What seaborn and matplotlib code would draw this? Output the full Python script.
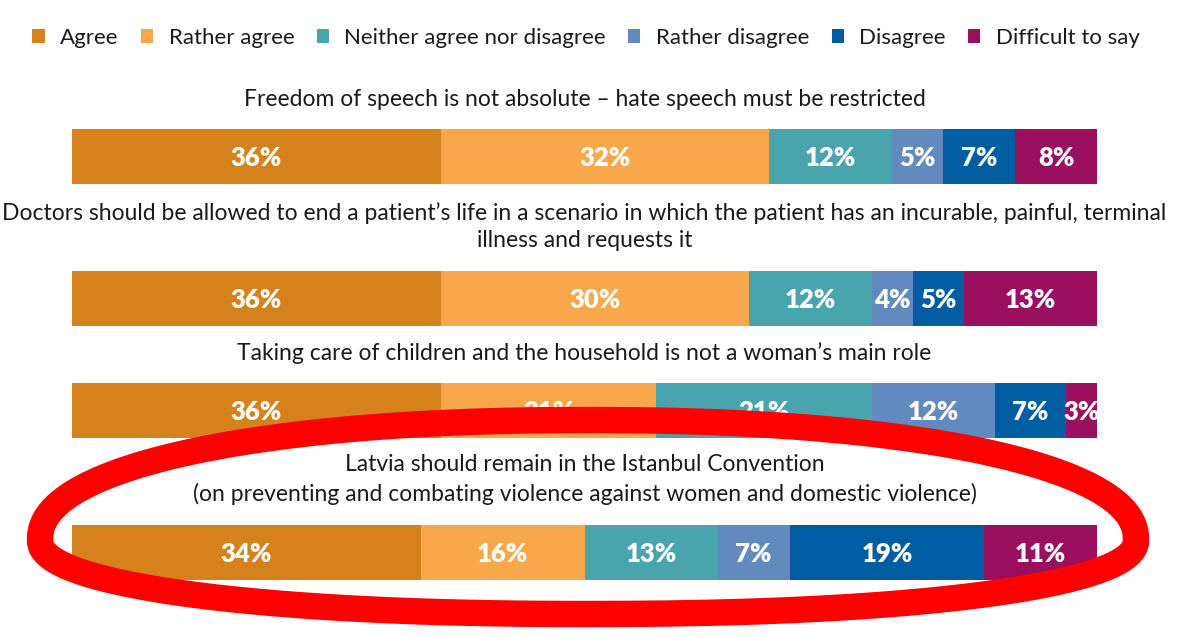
import numpy as np
import matplotlib.pyplot as plt
from matplotlib.patches import Patch
import seaborn as sns

# answer categories and colours
categories = ['Agree', 'Rather agree', 'Neither agree nor disagree',
              'Rather disagree', 'Disagree', 'Difficult to say']
colors = ['#D6821C', '#F9A74B', '#48A4AD', '#628ABF', '#005DA1', '#9A0F5E']

# statements (one bar each)
statements = [
    'Freedom of speech is not absolute \u2013 hate speech must be restricted',
    'Doctors should be allowed to end a patient\u2019s life in a scenario in which the patient has an incurable, painful, terminal\nillness and requests it',
    'Taking care of children and the household is not a woman\u2019s main role',
    'Latvia should remain in the Istanbul Convention\n(on preventing and combating violence against women and domestic violence)',
]

# shares in % per category
freedom_speech = [36, 32, 12, 5, 7, 8]
euthanasia = [36, 30, 12, 4, 5, 13]
womens_role = [36, 21, 21, 12, 7, 3]
istanbul = [34, 16, 13, 7, 19, 11]
all_values = [freedom_speech, euthanasia, womens_role, istanbul]

# layout in pixels of the 1181x638 image
W, H = 1181, 638
bar_left, bar_right = 72, 1097
bar_tops = [129, 271, 383, 525]
bar_h = 55
title_y = [99, 226.5, 353, 479.5]

sns.set_theme(style='white')
plt.rcParams['font.family'] = ['Lato', 'DejaVu Sans']

fig = plt.figure(figsize=(W / 100, H / 100), dpi=100)

for stmt, vals, top in zip(statements, all_values, bar_tops):
    ax = fig.add_axes([bar_left / W, 1 - (top + bar_h) / H,
                       (bar_right - bar_left) / W, bar_h / H])
    cum = np.cumsum(vals)
    # stacked bars: draw cumulative totals from largest to smallest
    for i in range(len(vals) - 1, -1, -1):
        sns.barplot(x=[cum[i]], y=[stmt], color=colors[i], orient='h',
                    width=1, linewidth=0, saturation=1, ax=ax)
    lefts = cum - np.array(vals)
    for v, l in zip(vals, lefts):
        ax.text(l + v / 2, 0.02, f'{v}%', ha='center', va='center',
                color='white', fontsize=18.5, fontweight='heavy')
    ax.set_xlim(0, 100)
    ax.set_ylim(0.5, -0.5)
    ax.axis('off')

# overlay in pixel coordinates for titles and the red ellipse
ov = fig.add_axes([0, 0, 1, 1], zorder=10)
ov.set_xlim(0, W)
ov.set_ylim(H, 0)
ov.axis('off')
ov.patch.set_alpha(0)

cx_text = (bar_left + bar_right) / 2
for stmt, ty in zip(statements, title_y):
    ov.text(cx_text, ty, stmt, ha='center', va='center', fontsize=16.5,
            color='#1a1a1a', linespacing=1.4)

# hand-drawn style highlight around the last statement
t = np.linspace(0, 2 * np.pi, 400)
n = 2.2
cx, cy, a = 588, 540, 548
b = np.where(np.sin(t) > 0, 120, 74)
ex = cx + a * np.sign(np.cos(t)) * np.abs(np.cos(t)) ** (2 / n)
ey = cy - b * np.sign(np.sin(t)) * np.abs(np.sin(t)) ** (2 / n)
ov.plot(ex, ey, color='#FF0000', lw=19, solid_capstyle='round')

handles = [Patch(facecolor=c, edgecolor='none') for c in colors]
fig.legend(handles, categories, loc='center', ncol=6, frameon=False,
           bbox_to_anchor=(586 / W, 1 - 38 / H), fontsize=16,
           handlelength=0.55, handleheight=0.55, handletextpad=0.7,
           columnspacing=1.0, labelcolor='#1a1a1a')

fig.savefig('out.png', dpi=100)
